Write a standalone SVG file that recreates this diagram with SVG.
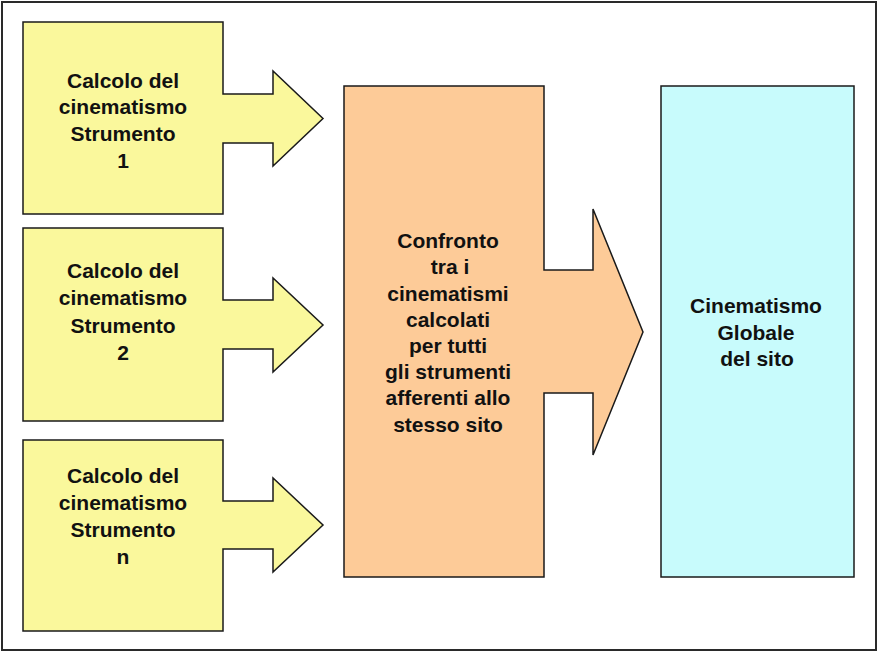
<svg xmlns="http://www.w3.org/2000/svg" width="877" height="653" viewBox="0 0 877 653">
<style>
.frame{fill:#ffffff;stroke:#2a2a2a;stroke-width:2}
.y{fill:#FAF89C;stroke:#1a1a1a;stroke-width:1.5;stroke-linejoin:miter}
.o{fill:#FDCB98;stroke:#1a1a1a;stroke-width:1.5}
.c{fill:#C8FBFC;stroke:#1a1a1a;stroke-width:1.5}
text{font-family:"Liberation Sans",Arial,sans-serif;font-weight:bold;font-size:21px;fill:#111;text-anchor:middle}
</style>
<rect class="frame" x="2" y="2" width="874" height="648"/>
<g id="connectors"/>
<g id="node-strumento-1">
<path class="y" d="M23,22 H223 V94 H273 V71 L323,118.5 L273,166 V143 H223 V214 H23 Z"/>
<text x="123" y="88">Calcolo del</text>
<text x="123" y="114">cinematismo</text>
<text x="123" y="141">Strumento</text>
<text x="123" y="168">1</text>
</g>
<g id="node-strumento-2">
<path class="y" d="M23,228 H223 V300 H273 V278 L323,325 L273,372 V349 H223 V421 H23 Z"/>
<text x="123" y="278">Calcolo del</text>
<text x="123" y="305">cinematismo</text>
<text x="123" y="333">Strumento</text>
<text x="123" y="360">2</text>
</g>
<g id="node-strumento-n">
<path class="y" d="M23,440 H223 V501 H273 V478 L323,525 L273,572 V549 H223 V631 H23 Z"/>
<text x="123" y="483">Calcolo del</text>
<text x="123" y="510">cinematismo</text>
<text x="123" y="537">Strumento</text>
<text x="123" y="564">n</text>
</g>
<g id="node-confronto">
<path class="o" d="M344,86 H544 V270 H593 V209 L643,332 L593,455 V393 H544 V577 H344 Z"/>
<text x="448" y="248">Confronto</text>
<text x="450" y="274">tra i</text>
<text x="448" y="301">cinematismi</text>
<text x="448" y="327">calcolati</text>
<text x="448" y="353">per tutti</text>
<text x="448" y="379">gli strumenti</text>
<text x="448" y="405">afferenti allo</text>
<text x="448" y="432">stesso sito</text>
</g>
<g id="node-globale">
<rect class="c" x="661" y="86" width="193" height="491"/>
<text x="756" y="313">Cinematismo</text>
<text x="756" y="340">Globale</text>
<text x="757" y="366">del sito</text>
</g>
</svg>
